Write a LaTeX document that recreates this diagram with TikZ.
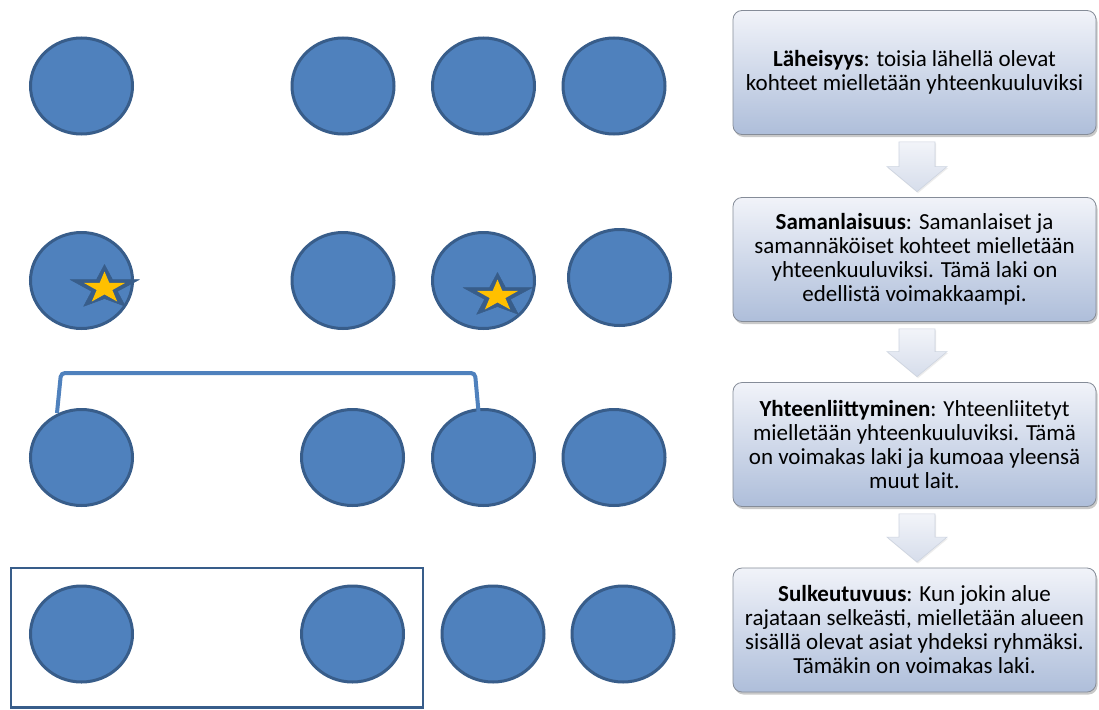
\documentclass[tikz,border=0pt]{standalone}
\usepackage{fontspec}
\setmainfont{Carlito}
\usetikzlibrary{shapes.geometric,shadows,calc}
\definecolor{cfill}{HTML}{4F81BD}
\definecolor{cline}{HTML}{385D8A}
\definecolor{starfill}{HTML}{FFC000}
\definecolor{boxtop}{HTML}{F1F3F9}
\definecolor{boxbot}{HTML}{AEBEDA}
\definecolor{boxline}{HTML}{858C98}
\definecolor{arrtop}{HTML}{F2F4F9}
\definecolor{arrbot}{HTML}{D6DDEB}
\definecolor{arrline}{HTML}{CDD4E0}
\tikzset{
  circ/.style={ellipse, fill=cfill, draw=cline, line width=3pt,
    minimum width=102pt, minimum height=96pt, inner sep=0pt},
  starout/.style={fill=cline, draw=cline, line width=0.5pt, line join=round},
  starin/.style={fill=starfill},
  bracketline/.style={draw=cfill, line width=4pt, rounded corners=4pt},
  encl/.style={draw=cline, line width=2.5pt},
  lawbox/.style={rounded corners=9pt, draw=boxline, line width=0.8pt,
    top color=boxtop, bottom color=boxbot, minimum width=363pt, minimum height=124pt,
    align=center, inner sep=0pt, font=\fontsize{23}{24}\selectfont,
    drop shadow={shadow xshift=1.5pt, shadow yshift=-2.5pt, opacity=0.35, fill=black!60}},
  blockarr/.style={draw=arrline, line width=0.6pt, top color=arrtop, bottom color=arrbot,
    drop shadow={shadow xshift=1pt, shadow yshift=-1.5pt, opacity=0.15}}
}
% star: #1,#2 = centre of the yellow star's bounding box (pixel coordinates, y down)
\newcommand{\mystar}[2]{%
  \draw[starout] (#1,#2-22) -- (#1+8,#2-6.9) -- (#1+35,#2-7) -- (#1+12.9,#2+4.8)
   -- (#1+20.8,#2+19.8) -- (#1,#2+12.1) -- (#1-20.8,#2+19.8) -- (#1-12.9,#2+4.8)
   -- (#1-34.5,#2-7) -- (#1-8,#2-6.9) -- cycle;
  \fill[starin] (#1,#2-15) -- (#1+4.84,#2-3.54) -- (#1+20.5,#2-3.54) -- (#1+7.83,#2+3.54)
   -- (#1+12.68,#2+15) -- (#1,#2+7.92) -- (#1-12.68,#2+15) -- (#1-7.83,#2+3.54)
   -- (#1-20.5,#2-3.54) -- (#1-4.84,#2-3.54) -- cycle;}
\begin{document}
\begin{tikzpicture}[x=1pt,y=-1pt]
\fill[white] (0,0) rectangle (1099,709);
\useasboundingbox (0,0) rectangle (1099,709);
% row 1
\node[circ] (a1) at (81.5,86) {};
\node[circ] (a2) at (343,86) {};
\node[circ] (a3) at (483.5,86) {};
\node[circ] (a4) at (614,86) {};
% row 2
\node[circ] (b1) at (81.5,280.5) {};
\node[circ] (b2) at (343,280.5) {};
\node[circ] (b3) at (483.5,280.5) {};
\node[circ] (b4) at (619.5,277.5) {};
\mystar{104.5}{286.5}
\mystar{497.5}{294.5}
% row 3
\node[circ] (c1) at (81.5,457.5) {};
\node[circ] (c2) at (352.5,457.5) {};
\node[circ] (c3) at (483.5,457.5) {};
\node[circ] (c4) at (614,457.5) {};
\draw[bracketline] ($(c1.north)+(-24.5,5)$) -- ($(c1.north)+(-20.5,-35)$)
   -- ($(c3.north)+(-8.5,-35)$) -- ($(c3.north)+(-4.5,9)$);
% row 4
\node[circ] (d1) at (81.5,634) {};
\node[circ] (d2) at (352.5,634) {};
\node[circ] (d3) at (493,634) {};
\node[circ] (d4) at (623,634) {};
\draw[encl] (11,568) rectangle (423,707.5);
% law boxes
\node[lawbox] (l1) at (914.5,72.5) {\textbf{Läheisyys}: toisia lähellä olevat\\kohteet mielletään yhteenkuuluviksi};
\node[lawbox] (l2) at (914.5,259.5) {\textbf{Samanlaisuus}: Samanlaiset ja\\samannäköiset kohteet mielletään\\yhteenkuuluviksi. Tämä laki on\\edellistä voimakkaampi.};
\node[lawbox] (l3) at (914.5,444.5) {\textbf{Yhteenliittyminen}: Yhteenliitetyt\\mielletään yhteenkuuluviksi. Tämä\\on voimakas laki ja kumoaa yleensä\\muut lait.};
\node[lawbox] (l4) at (914.5,630) {\textbf{Sulkeutuvuus}: Kun jokin alue\\rajataan selkeästi, mielletään alueen\\sisällä olevat asiat yhdeksi ryhmäksi.\\Tämäkin on voimakas laki.};
% block arrows
\foreach \f/\t in {l1/l2, l2/l3, l3/l4}{
  \coordinate (s) at ($(\f.south)+(2.5,7)$);
  \coordinate (e) at ($(\t.north)+(2.5,-5.5)$);
  \path[blockarr] ($(s)+(-18,0)$) -- ($(s)+(18,0)$) -- ($(e)+(18,-25)$) -- ($(e)+(30,-25)$)
     -- (e) -- ($(e)+(-30,-25)$) -- ($(e)+(-18,-25)$) -- cycle;
}
\end{tikzpicture}
\end{document}
